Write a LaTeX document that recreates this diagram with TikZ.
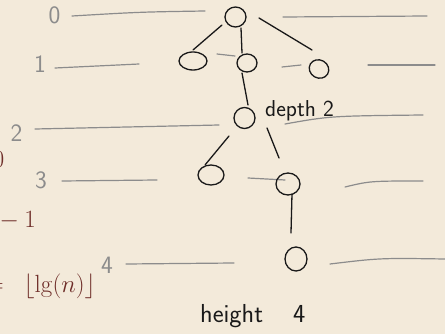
\documentclass[tikz,border=0pt]{standalone}
\usetikzlibrary{shapes.geometric}
\definecolor{bgc}{RGB}{243,234,218}
\definecolor{guide}{RGB}{140,140,140}
\definecolor{ink}{RGB}{25,25,25}
\definecolor{slide}{RGB}{110,45,40}
\tikzset{
  nd/.style={draw=ink, line width=1.3pt, ellipse, inner sep=0pt},
  edge/.style={draw=ink, line width=1.3pt, line cap=round},
  guideline/.style={draw=guide, line width=1.2pt, line cap=round},
  lvl/.style={text=guide, font=\sffamily\fontsize{25}{25}\selectfont, inner sep=0pt},
  hand/.style={text=ink, font=\sffamily\fontsize{23}{23}\selectfont, inner sep=0pt},
  slidetext/.style={text=slide, font=\fontsize{23}{23}\selectfont, inner sep=0pt}
}
\begin{document}
\begin{tikzpicture}[x=1pt,y=-1pt]
\fill[bgc] (0,0) rectangle (445,334);
\useasboundingbox (0,0) rectangle (445,334);

% slide text (partly cut, as in the reference)
\node[slidetext, anchor=base east] (s0) at (4.5,168) {$0$};
\node[slidetext, anchor=base east] (s1) at (36,228) {${}-1$};
\node[slidetext, anchor=base east] (s2) at (96,293) {$=\hspace{13pt}\lfloor\lg(n)\rfloor$};

% level numbers
\node[lvl] (l0) at (54.5,15) {0};
\node[lvl] (l1) at (40,64) {1};
\node[lvl] (l2) at (16.5,133.5) {2};
\node[lvl] (l3) at (41,180) {3};
\node[lvl] (l4) at (107,265) {4};

% level guide lines
\draw[guideline] (72,16) .. controls (140,12) .. (205,11);
\draw[guideline] (283,17) -- (427,16);
\draw[guideline] (55,68) -- (139,64);
\draw[guideline] (368,65) -- (435,65);
\draw[guideline] (35,129) -- (219,125);
\draw[guideline] (285,124) .. controls (330,116) .. (423,115);
\draw[guideline] (62,181) -- (157,180);
\draw[guideline] (345,187) .. controls (370,181) .. (423,181);
\draw[guideline] (126,264) -- (234,263);
\draw[guideline] (330,264) .. controls (380,258) .. (445,259);
% sibling dashes
\draw[guideline] (217,54) -- (235,56);
\draw[guideline] (282,67) -- (301,65);
\draw[guideline] (248,178) -- (285,180);

% tree nodes
\node[nd, minimum width=21pt, minimum height=20pt] (root) at (235.5,17) {};
\node[nd, minimum width=28pt, minimum height=18pt] (L1) at (193,61) {};
\node[nd, minimum width=20pt, minimum height=18pt] (M1) at (247,63) {};
\node[nd, minimum width=20pt, minimum height=18pt, rotate=-30] (R1) at (319,69) {};
\node[nd, minimum width=21pt, minimum height=21pt] (D2) at (244.5,118) {};
\node[nd, minimum width=26pt, minimum height=20pt] (L3) at (211,175) {};
\node[nd, minimum width=24pt, minimum height=22pt] (R3) at (288,184) {};
\node[nd, minimum width=22pt, minimum height=24pt] (leaf) at (296,259) {};

% tree edges
\draw[edge] ([shift={(0,-11)}]L1.center) -- ([shift={(-13.5,8)}]root.center);
\draw[edge] ([shift={(5.5,11)}]root.center) -- ([shift={(-5,-10)}]M1.center);
\draw[edge] ([shift={(23.5,1)}]root.center) -- ([shift={(-7,-19)}]R1.center);
\draw[edge] ([shift={(-5,10)}]M1.center) -- ([shift={(3.5,-13)}]D2.center);
\draw[edge] ([shift={(-15.5,18)}]D2.center) -- ([shift={(-6,-10)}]L3.center);
\draw[edge] ([shift={(22.5,10)}]D2.center) -- ([shift={(-9,-26)}]R3.center);
\draw[edge] ([shift={(4,10)}]R3.center) -- ([shift={(-5,-26)}]leaf.center);

% handwritten annotations
\node[hand, anchor=base west] (depth) at (265,117) {depth 2};
\node[hand, anchor=base west, font=\sffamily\fontsize{26}{26}\selectfont] (height) at (200,323) {height\hspace{30pt}4};
\end{tikzpicture}
\end{document}
